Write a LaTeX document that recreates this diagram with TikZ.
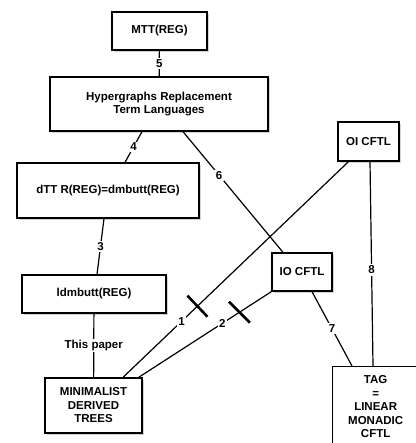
\documentclass[tikz,border=0pt]{standalone}
\usepackage{fontspec}
\setmainfont{Liberation Sans}
\usetikzlibrary{shadows}

\begin{document}
\begin{tikzpicture}[x=1pt,y=-1pt,
  box/.style={draw,line width=1.3pt,fill=white,align=center,inner sep=0pt,
    drop shadow={shadow xshift=1.8pt,shadow yshift=-1.8pt,opacity=0.35},
    font=\bfseries\fontsize{11.5}{13.5}\selectfont},
  lbl/.style={fill=white,inner sep=1.5pt,font=\bfseries\fontsize{11.5}{13.5}\selectfont},
  link/.style={line width=1.2pt},
  cross/.style={line width=2.6pt}]
\useasboundingbox (0,0) rectangle (415,443);

\node[box,minimum width=95pt,minimum height=38pt] (mtt) at (159.5,31) {MTT(REG)};
\node[box,minimum width=218pt,minimum height=54pt] (hyp) at (159,104) {Hypergraphs Replacement\\Term Languages};
\node[box,minimum width=61pt,minimum height=39pt] (oi) at (368.5,141.5) {OI CFTL};
\node[box,minimum width=182pt,minimum height=55pt] (dtt) at (108,190.5) {dTT R(REG)=dmbutt(REG)};
\node[box,minimum width=144pt,minimum height=38pt] (ldm) at (94,294) {ldmbutt(REG)};
\node[box,minimum width=60pt,minimum height=38pt] (io) at (302,272) {IO CFTL};
\node[box,minimum width=97pt,minimum height=55pt] (min) at (93.5,405.5) {MINIMALIST\\DERIVED\\TREES};
\node[box,anchor=north west,minimum width=86pt,inner ysep=9pt] (tag) at (332,366) {TAG\\=\\LINEAR\\MONADIC\\CFTL};

\draw[link] (mtt) -- node[lbl]{5} (hyp);
\draw[link] ([xshift=-17pt]hyp.south) -- node[lbl]{4} ([xshift=17pt]dtt.north);
\draw[link] ([xshift=24pt]hyp.south) -- node[lbl,pos=0.36]{6} ([xshift=-19pt]io.north);
\draw[link] ([xshift=-4pt]dtt.south) -- node[lbl]{3} ([xshift=3pt]ldm.north);
\draw[link] (ldm) -- node[lbl]{This paper} (min);
\draw[link] ([xshift=-20pt]oi.south) -- coordinate[pos=0.67] (c1) node[lbl,pos=0.74]{1} ([xshift=29.5pt]min.north);
\draw[link] (io.south west) -- coordinate[pos=0.24] (c2) node[lbl,pos=0.37]{2} ([xshift=-4pt]min.north east);
\draw[link] ([xshift=10pt]io.south) -- node[lbl]{7} ([xshift=20pt]tag.north west);
\draw[link] ([xshift=1.5pt]oi.south) -- node[lbl,pos=0.53]{8} ([xshift=41pt]tag.north west);

% crossed-out relations
\draw[cross] (c1) ++(-10,-10.5) -- ++(20,21);
\draw[cross] (c2) ++(-10.5,-10.5) -- ++(21,21);
\end{tikzpicture}
\end{document}
